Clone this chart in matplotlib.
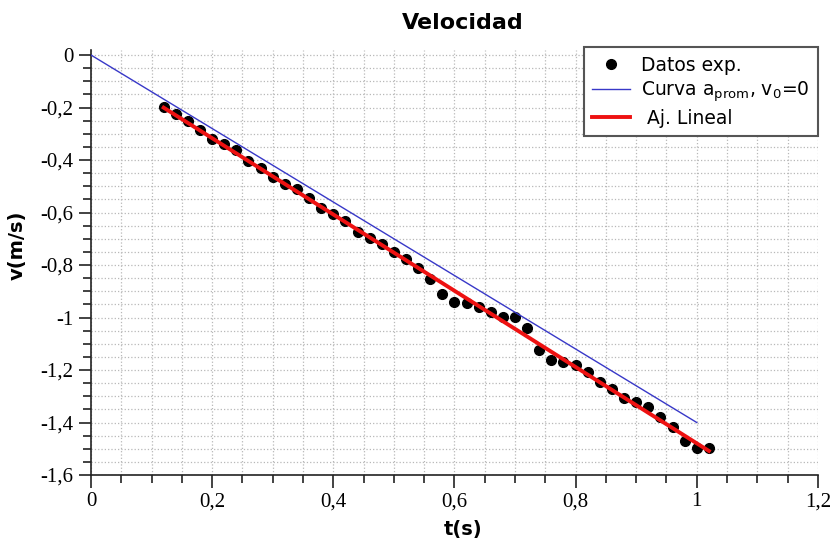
import numpy as np
import matplotlib.pyplot as plt
from matplotlib.ticker import MultipleLocator, FixedLocator, FixedFormatter

# datos experimentales (t en s, v en m/s)
t_exp = [0.12, 0.14, 0.16, 0.18, 0.20, 0.22, 0.24, 0.26, 0.28, 0.30,
         0.32, 0.34, 0.36, 0.38, 0.40, 0.42, 0.44, 0.46, 0.48, 0.50,
         0.52, 0.54, 0.56, 0.58, 0.60, 0.62, 0.64, 0.66, 0.68, 0.70,
         0.72, 0.74, 0.76, 0.78, 0.80, 0.82, 0.84, 0.86, 0.88, 0.90,
         0.92, 0.94, 0.96, 0.98, 1.00, 1.02]
v_exp = [-0.199, -0.225, -0.251, -0.286, -0.321, -0.339, -0.363, -0.404, -0.432, -0.464,
         -0.493, -0.512, -0.543, -0.584, -0.607, -0.631, -0.675, -0.698, -0.721, -0.752,
         -0.778, -0.810, -0.853, -0.910, -0.942, -0.946, -0.959, -0.980, -0.999, -0.999,
         -1.041, -1.124, -1.162, -1.171, -1.181, -1.206, -1.245, -1.273, -1.306, -1.321,
         -1.342, -1.378, -1.416, -1.470, -1.496, -1.496]

# curva con aceleracion promedio, v0 = 0
t_curva = [0.0, 1.0]
v_curva = [0.0, -1.40]

xtick_pos = [0, 0.2, 0.4, 0.6, 0.8, 1.0, 1.2]
xtick_labels = ['0', '0,2', '0,4', '0,6', '0,8', '1', '1,2']
ytick_pos = [0, -0.2, -0.4, -0.6, -0.8, -1.0, -1.2, -1.4, -1.6]
ytick_labels = ['0', '-0,2', '-0,4', '-0,6', '-0,8', '-1', '-1,2', '-1,4', '-1,6']

# ajuste lineal
m, b = np.polyfit(t_exp, v_exp, 1)
t_fit = np.array([t_exp[0], t_exp[-1]])
v_fit = m * t_fit + b

fig = plt.figure(figsize=(8.33, 5.38), dpi=100)
ax = fig.add_axes([0.1092, 0.1171, 0.8727, 0.7904])

ax.plot(t_exp, v_exp, 'o', color='black', markersize=7, label='Datos exp.', zorder=3)
ax.plot(t_curva, v_curva, color='#3838c8', lw=1.0, label=r'Curva a$_{\mathrm{prom}}$, v$_0$=0', zorder=4)
ax.plot(t_fit, v_fit, color='#ee1111', lw=2.8, label=' Aj. Lineal', zorder=5)

ax.set_xlim(0, 1.2)
ax.set_ylim(-1.6, 0.02)

ax.xaxis.set_major_locator(FixedLocator(xtick_pos))
ax.xaxis.set_major_formatter(FixedFormatter(xtick_labels))
ax.yaxis.set_major_locator(FixedLocator(ytick_pos))
ax.yaxis.set_major_formatter(FixedFormatter(ytick_labels))
ax.xaxis.set_minor_locator(MultipleLocator(0.05))
ax.yaxis.set_minor_locator(MultipleLocator(0.05))

ax.grid(True, which='both', linestyle=':', color='#b8b8b8', lw=0.9)
ax.set_axisbelow(True)

for s in ['top', 'right']:
    ax.spines[s].set_visible(False)
for s in ['left', 'bottom']:
    ax.spines[s].set_linewidth(1.2)
    ax.spines[s].set_color('#222222')

ax.tick_params(which='major', length=9, width=1.2, color='#222222')
ax.tick_params(which='minor', length=6, width=1.2, color='#222222')
for lab in ax.get_xticklabels() + ax.get_yticklabels():
    lab.set_fontfamily('Liberation Serif')
    lab.set_fontsize(15)

ax.set_xlabel('t(s)', fontsize=14, fontweight='bold')
ax.xaxis.set_label_coords(0.512, -0.105)
ax.set_ylabel('v(m/s)', fontsize=14, fontweight='bold')
ax.yaxis.set_label_coords(-0.088, 0.54)

fig.text(0.556, 0.958, 'Velocidad', fontsize=16, fontweight='bold', ha='center', va='center')

leg = ax.legend(loc='upper right', bbox_to_anchor=(0.982, 0.912), bbox_transform=fig.transFigure,
                fontsize=13.5, frameon=True, fancybox=False, framealpha=1,
                borderaxespad=0, handlelength=2.0, labelspacing=0.25, borderpad=0.45, handletextpad=0.6)
leg.get_frame().set_edgecolor('#555555')
leg.get_frame().set_linewidth(1.5)

fig.savefig('out.png', dpi=100)
